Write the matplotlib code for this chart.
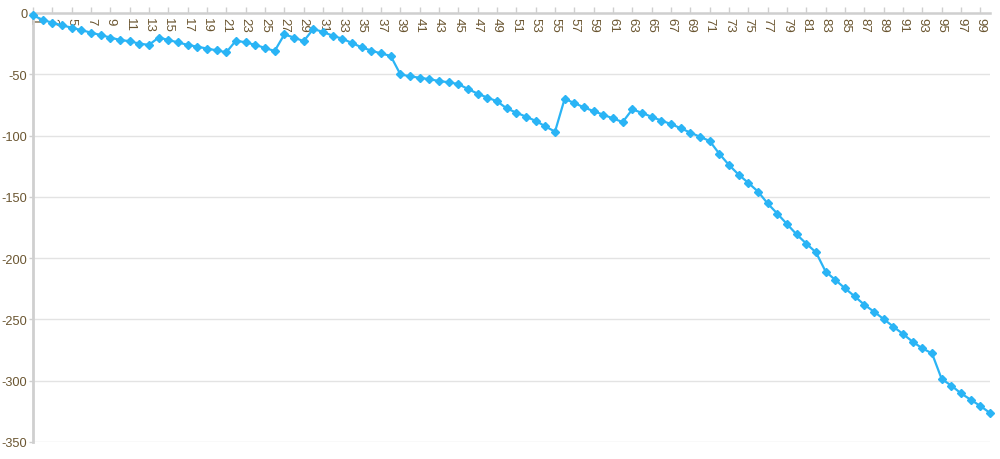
import matplotlib
matplotlib.use("Agg")
import matplotlib.pyplot as plt

plt.rcParams["font.family"] = ["Liberation Sans", "DejaVu Sans"]

categories = list(range(1, 101))
values = [
    -2, -5.5, -8, -10, -12, -14, -16, -18, -20, -22,
    -23, -25, -26, -20, -22, -24, -26, -27.5, -29, -30.5,
    -32, -22.5, -24, -26, -28.5, -31, -17.5, -20, -23, -13,
    -15.5, -18.5, -21, -24.5, -28, -30.7, -33, -35, -50, -51.7,
    -52.8, -54, -55.5, -56.5, -58, -62, -65.8, -69, -72, -77.8,
    -81.3, -84.6, -88, -92.5, -96.8, -70, -73.5, -77, -80.1, -83,
    -86, -89, -78.6, -81.5, -84.7, -87.8, -90.6, -94, -97.6, -101,
    -104.4, -114.9, -124, -131.9, -138.6, -145.7, -155.4, -163.7, -172.2, -180.7,
    -188.2, -195.3, -211, -217.8, -224.6, -231.2, -238, -243.7, -249.7, -255.9,
    -261.9, -268.2, -273.6, -277.7, -298.6, -304, -310.3, -315.5, -320.6, -326.3,
]
y_ticks = [0, -50, -100, -150, -200, -250, -300, -350]
x_label_cats = categories[::2]

LINE = "#2ab4f5"
TXT = "#6a5530"
AX = "#cfcfcf"
GRID = "#e3e3e3"

fig = plt.figure(figsize=(10, 4.6), dpi=100)
ax = fig.add_axes([0.033, 1 - 443 / 460, 0.957, (443 - 14) / 460])

ax.plot(categories, values, color=LINE, lw=1.6, marker="D", ms=4.5,
        mec=LINE, mfc=LINE, zorder=3, clip_on=False)

ax.set_xlim(1, 100)
ax.set_ylim(-350, 0)

for s in ["right", "bottom"]:
    ax.spines[s].set_visible(False)
ax.spines["top"].set_color(AX)
ax.spines["top"].set_linewidth(1.8)
ax.spines["left"].set_color(AX)
ax.spines["left"].set_linewidth(2)

ax.set_yticks(y_ticks)
ax.set_yticklabels([str(v) for v in y_ticks])
ax.tick_params(axis="y", colors=AX, labelcolor=TXT, labelsize=9.2, length=3,
               width=1, pad=1)
for v in y_ticks[1:]:
    ax.axhline(v, color=GRID, lw=1, zorder=0)

ax.set_xticks(x_label_cats)
ax.set_xticklabels([])
ax.tick_params(axis="x", top=True, bottom=False, labelbottom=False,
               direction="out", length=4, colors=AX, width=1)
for c in x_label_cats:
    ax.annotate(str(c), xy=(c, 0), xytext=(0, -3), textcoords="offset points",
                rotation=-90, ha="center", va="top", fontsize=9.5, color=TXT,
                annotation_clip=False, zorder=2)

fig.savefig("out.png", dpi=100)
